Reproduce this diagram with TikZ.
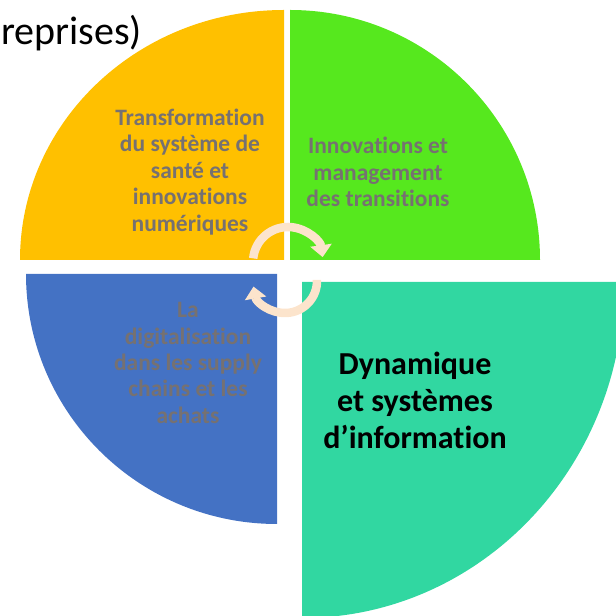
\documentclass[tikz,border=0pt]{standalone}
\usepackage{fontspec}
\setmainfont{Carlito}[Ligatures=NoCommon]
\usetikzlibrary{arrows.meta}
\definecolor{sectorOrange}{HTML}{FFC000}
\definecolor{sectorGreen}{HTML}{56E81E}
\definecolor{sectorBlue}{HTML}{4472C4}
\definecolor{sectorTeal}{HTML}{31D7A1}
\definecolor{labelGrey}{HTML}{767171}
\definecolor{cycleCream}{HTML}{FCE4CC}

\begin{document}
\begin{tikzpicture}[x=1pt, y=1pt]
  \tikzset{LabelStyle/.style = {
  align = center,
  inner sep = 0pt,
  text = labelGrey,
  font = \bfseries\fontsize{23.5}{26.4}\selectfont}}
  \tikzset{CycleStyle/.style = {
  draw = cycleCream,
  line width = 8.5pt,
  -{Triangle[width=21pt, length=12pt]}}}
  \useasboundingbox (0,0) rectangle (616,616);
  \clip (0,0) rectangle (616,616);
  \begin{scope}[shift={(284,356)}]
    \fill[sectorOrange] (0,0) -- (-264,0)
      arc[start angle=180, end angle=90, x radius=264, y radius=250] -- cycle;
  \end{scope}
  \begin{scope}[shift={(290,356)}]
    \fill[sectorGreen] (0,0) -- (0,250)
      arc[start angle=90, end angle=0, radius=250] -- cycle;
  \end{scope}
  \begin{scope}[shift={(277,342)}]
    \fill[sectorBlue] (0,0) -- (-251,0)
      arc[start angle=180, end angle=270, x radius=251, y radius=250] -- cycle;
  \end{scope}
  \begin{scope}[shift={(302,334)}]
    \fill[sectorTeal] (0,0) -- (322,0)
      arc[start angle=0, end angle=-90, x radius=322, y radius=336] -- cycle;
  \end{scope}
  \node[anchor=base west, inner sep=0pt, font=\fontsize{40}{44}\selectfont] (titre) at (1,571) {reprises)};
  \node[LabelStyle] (sante) at (190,444) {Transformation\\du système de\\santé et\\innovations\\numériques};
  \node[LabelStyle] (transitions) at (378,444) {Innovations et\\management\\des transitions};
  \node[LabelStyle] (supply) at (188,253) {La\\digitalisation\\dans les supply\\chains et les\\achats};
  \node[LabelStyle, text=black, font=\bfseries\fontsize{32}{37}\selectfont] (dynamique) at (415,216) {Dynamique\\et systèmes\\d’information};
  \coordinate (haut) at (288,354);
  \coordinate (bas) at (285,335);
  \draw[CycleStyle] (haut) ++(174:35) arc[start angle=174, end angle=8, radius=35];
  \draw[CycleStyle] (bas) ++(2:32) arc[start angle=2, end angle=-170, radius=32];
\end{tikzpicture}
\end{document}
